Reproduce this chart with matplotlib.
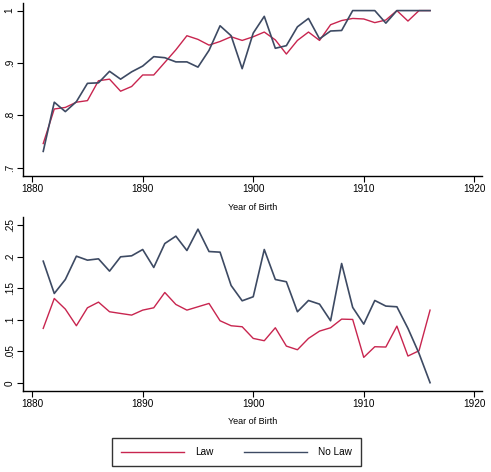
import matplotlib
matplotlib.use("Agg")
import matplotlib.pyplot as plt
from matplotlib.lines import Line2D

plt.rcParams['font.family'] = ['Liberation Sans', 'DejaVu Sans']

years = list(range(1881, 1917))

ratio_law = [0.746, 0.812, 0.815, 0.825, 0.828, 0.866, 0.869, 0.846, 0.855, 0.877,
             0.877, 0.901, 0.925, 0.952, 0.945, 0.934, 0.941, 0.950, 0.943, 0.950,
             0.959, 0.944, 0.917, 0.943, 0.959, 0.943, 0.973, 0.981, 0.985, 0.984,
             0.977, 0.982, 1.000, 0.980, 1.000, 1.000]
ratio_nolaw = [0.731, 0.825, 0.807, 0.826, 0.861, 0.862, 0.884, 0.869, 0.883, 0.894,
               0.912, 0.910, 0.902, 0.902, 0.892, 0.924, 0.971, 0.952, 0.889, 0.957,
               0.989, 0.928, 0.933, 0.969, 0.985, 0.946, 0.961, 0.962, 1.000, 1.000,
               1.000, 0.976, 1.000, 1.000, 1.000, 1.000]

born_law = [0.0862, 0.1337, 0.1168, 0.0904, 0.1189, 0.1279, 0.1126, 0.1099, 0.1073, 0.1152,
            0.1189, 0.1432, 0.1242, 0.1152, 0.1205, 0.1258, 0.0983, 0.0904, 0.0888, 0.0703,
            0.0666, 0.0872, 0.0581, 0.0523, 0.0703, 0.0819, 0.0872, 0.1009, 0.1004, 0.0402,
            0.0571, 0.0566, 0.0898, 0.0423, 0.0507, 0.1152]
born_nolaw = [0.1929, 0.1416, 0.1638, 0.2008, 0.1945, 0.1966, 0.1771, 0.1998, 0.2014, 0.2114,
              0.1829, 0.2209, 0.2326, 0.2098, 0.2437, 0.2082, 0.2072, 0.1543, 0.1300, 0.1364,
              0.2114, 0.1638, 0.1602, 0.1126, 0.1305, 0.1247, 0.0983, 0.1892, 0.1195, 0.0930,
              0.1305, 0.1216, 0.1205, 0.0862, 0.0465, 0.0000]

xticks = [1880, 1890, 1900, 1910, 1920]
top_yticks = [0.7, 0.8, 0.9, 1.0]
top_ylabels = ['.7', '.8', '.9', '1']
bot_yticks = [0, 0.05, 0.1, 0.15, 0.2, 0.25]
bot_ylabels = ['0', '.05', '.1', '.15', '.2', '.25']

c_law = '#c8254f'
c_nolaw = '#3d4a63'

W, H = 491, 472
fig = plt.figure(figsize=(W / 100, H / 100), dpi=100)
fig.patch.set_facecolor('white')

def px_axes(x0, y0, x1, y1):
    return fig.add_axes([x0 / W, 1 - y1 / H, (x1 - x0) / W, (y1 - y0) / H])

ax1 = px_axes(23, 3, 482, 176)
ax2 = px_axes(23, 217, 482, 390.7)

def style(ax, yt, yl, ylim):
    ax.set_xlim(1879.17, 1920.7)
    ax.set_ylim(*ylim)
    ax.set_xticks(xticks)
    ax.set_xticklabels([str(x) for x in xticks], fontsize=7.2)
    ax.set_yticks(yt)
    ax.set_yticklabels(yl, fontsize=7.2, rotation=90, va='center')
    for s in ['top', 'right']:
        ax.spines[s].set_visible(False)
    for s in ['left', 'bottom']:
        ax.spines[s].set_linewidth(1.0)
        ax.spines[s].set_color('black')
    ax.tick_params(length=4, width=0.8, pad=2)
    ax.set_xlabel('Year of Birth', fontsize=6.5, labelpad=6)

ax1.plot(years, ratio_law, color=c_law, lw=1.0)
ax1.plot(years, ratio_nolaw, color=c_nolaw, lw=1.2)
style(ax1, top_yticks, top_ylabels, (0.684, 1.0145))

ax2.plot(years, born_law, color=c_law, lw=1.0)
ax2.plot(years, born_nolaw, color=c_nolaw, lw=1.2)
style(ax2, bot_yticks, bot_ylabels, (-0.0127, 0.263))

fig.text(-3 / W, 1 - 89 / H, 'Ratio', rotation=90, ha='center', va='center', fontsize=6.5)
fig.text(-3 / W, 1 - 304 / H, 'Born in different state', rotation=90, ha='center', va='center', fontsize=6.5)

handles = [Line2D([], [], color=c_law, lw=1.0), Line2D([], [], color=c_nolaw, lw=1.0)]
leg = fig.legend(handles, ['Law', 'No Law'], ncol=2, loc='center',
                 bbox_to_anchor=((114 + 359) / 2 / W, 1 - 452 / H),
                 fontsize=7.2, handlelength=6.3, handletextpad=1.1,
                 columnspacing=3.0, frameon=True, fancybox=False,
                 borderpad=0.9, borderaxespad=0)
leg.get_frame().set_edgecolor('black')
leg.get_frame().set_linewidth(1.0)

fig.savefig('out.png', dpi=100)
